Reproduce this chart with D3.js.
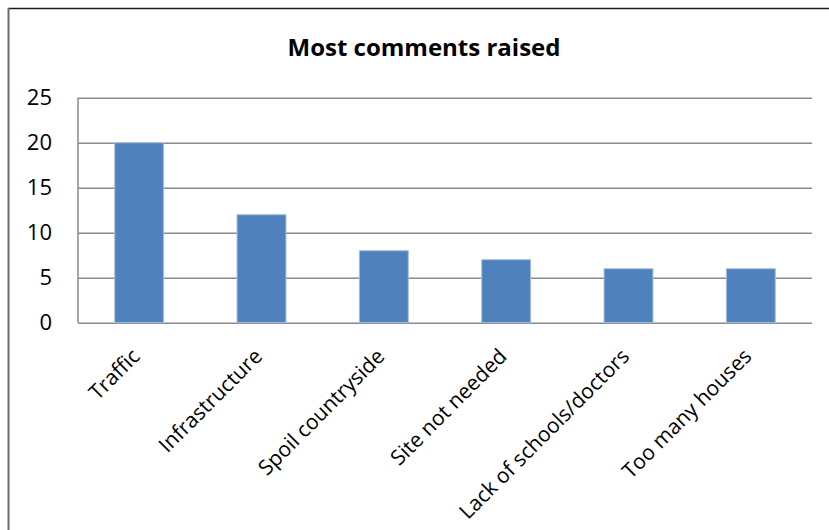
<!DOCTYPE html>
<html>
<head>
<meta charset="utf-8">
<script src="https://cdn.jsdelivr.net/npm/d3@7"></script>
<style>
  body { margin: 0; background: #fff; }
  svg { display: block; font-family: "Open Sans", sans-serif; }
  .grid line { stroke: #8a8a8a; stroke-width: 1.5; }
  .grid .domain { display: none; }
  .yaxis .domain, .yaxis line { display: none; }
</style>
</head>
<body>
<svg id="chart" width="829" height="530"></svg>
<script>
var categories = ['Traffic', 'Infrastructure', 'Spoil countryside', 'Site not needed', 'Lack of schools/doctors', 'Too many houses'];
var counts = [20, 12, 8, 7, 6, 6];
var yTicks = [0, 5, 10, 15, 20, 25];
var title = 'Most comments raised';

var svg = d3.select('svg#chart');

var plotLeft = 78, plotRight = 812, plotTop = 97.7, plotBottom = 322.7;

var x = d3.scaleBand().domain(categories).range([plotLeft, plotRight]).paddingInner(0.6).paddingOuter(0.3);
var y = d3.scaleLinear().domain([0, 25]).range([plotBottom, plotTop]);

// chart frame (only top and left edges show)
svg.append('line')
    .attr('x1', 8).attr('x2', 829).attr('y1', 8.5).attr('y2', 8.5)
    .attr('stroke', '#1e1e1e').attr('stroke-width', 1.5);
svg.append('line')
    .attr('x1', 8.5).attr('x2', 8.5).attr('y1', 8).attr('y2', 530)
    .attr('stroke', '#6a6a6a').attr('stroke-width', 2);

svg.append('text')
    .attr('x', 424).attr('y', 56)
    .attr('text-anchor', 'middle')
    .attr('font-size', 24).attr('font-weight', 'bold')
    .text(title);

svg.append('g')
    .attr('class', 'grid')
    .attr('transform', 'translate(' + plotLeft + ',0)')
    .call(d3.axisLeft(y).tickValues(yTicks).tickSize(-(plotRight - plotLeft)).tickFormat(''));

svg.append('line')
    .attr('x1', plotLeft).attr('x2', plotLeft).attr('y1', plotTop).attr('y2', plotBottom)
    .attr('stroke', '#8a8a8a').attr('stroke-width', 1.5);

svg.append('g')
    .attr('class', 'yaxis')
    .attr('transform', 'translate(' + plotLeft + ',0)')
    .call(d3.axisLeft(y).tickValues(yTicks).tickSize(0).tickPadding(26))
    .call(function (g) {
        g.selectAll('text').attr('font-size', 22).attr('fill', '#000')
            .attr('font-family', '"Open Sans", sans-serif');
    });

svg.append('g')
    .selectAll('rect')
    .data(counts)
    .join('rect')
    .attr('x', function (d, i) { return x(categories[i]); })
    .attr('y', function (d) { return y(d); })
    .attr('width', x.bandwidth())
    .attr('height', function (d) { return plotBottom - y(d); })
    .attr('fill', '#4f81bd')
    .attr('stroke', '#a9c0de')
    .attr('stroke-width', 1);

svg.append('g')
    .selectAll('text')
    .data(categories)
    .join('text')
    .attr('transform', function (d) {
        return 'translate(' + (x(d) + x.bandwidth() / 2 + 2) + ',' + (plotBottom + 35) + ') rotate(-45)';
    })
    .attr('text-anchor', 'end')
    .attr('font-size', 21)
    .text(function (d) { return d; });
</script>
</body>
</html>
